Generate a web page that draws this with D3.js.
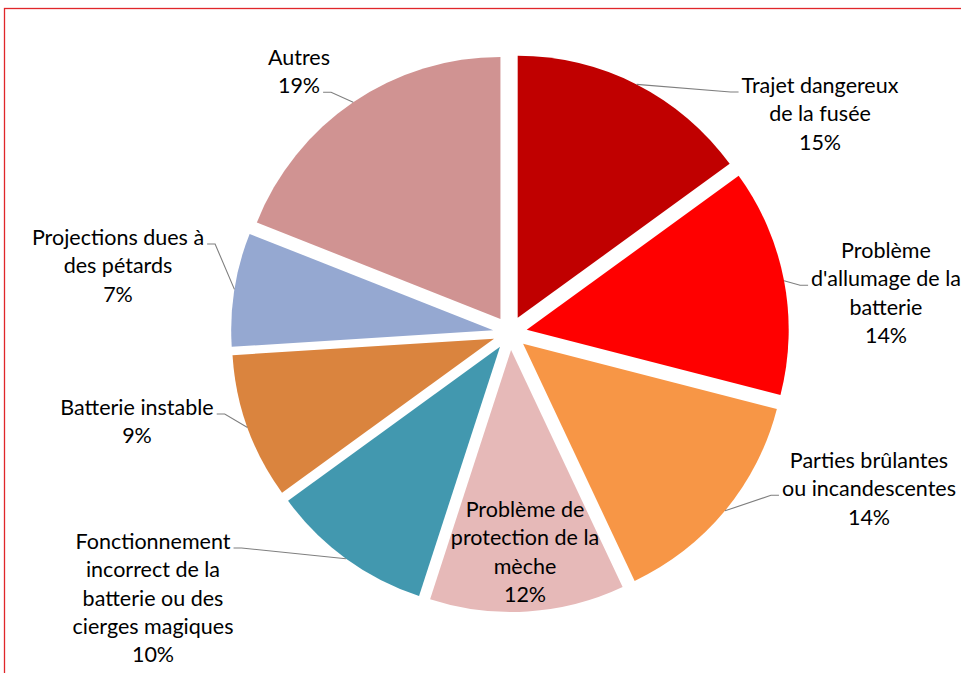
<!DOCTYPE html>
<html>
<head>
<meta charset="utf-8">
<script src="https://cdn.jsdelivr.net/npm/d3@7"></script>
<style>
  body { margin: 0; background: #fff; }
  svg { display: block; }
</style>
</head>
<body>
<div class="d3-chart"></div>
<script>
// chart data
const categories = [
  ["Trajet dangereux", "de la fusée"],
  ["Problème", "d'allumage de la", "batterie"],
  ["Parties brûlantes", "ou incandescentes"],
  ["Problème de", "protection de la", "mèche"],
  ["Fonctionnement", "incorrect de la", "batterie ou des", "cierges magiques"],
  ["Batterie instable"],
  ["Projections dues à", "des pétards"],
  ["Autres"]
];
const values = [15, 14, 14, 12, 10, 9, 7, 19];
const colors = ["#c00000", "#ff0000", "#f79646", "#e6b9b8", "#4298af", "#da843e", "#95a8d1", "#d09392"];

// label layout: text centre x, first baseline, which line the leader attaches to, side
const labelLayout = [
  {x: 820, y: 93,  line: 0, side: "left"},
  {x: 886, y: 258, line: 1, side: "left"},
  {x: 869, y: 468, line: 1, side: "left"},
  {x: 525, y: 517, line: -1},
  {x: 153, y: 549, line: 0, side: "right"},
  {x: 137, y: 415, line: 0, side: "right"},
  {x: 118, y: 245, line: 0, side: "right"},
  {x: 299, y: 65,  line: 1, side: "right"}
];

const width = 961, height = 673;
const cx = 510, cy = 333, radius = 262, explode = 17;
const lineH = 28.3;

const svg = d3.select(".d3-chart")
  .append("svg")
  .attr("width", width)
  .attr("height", height);

// frame
svg.append("rect")
  .attr("x", 4.5).attr("y", 8.5)
  .attr("width", 1000).attr("height", 1000)
  .attr("fill", "none")
  .attr("stroke", "#e0262a")
  .attr("stroke-width", 1.3);

const pie = d3.pie().sort(null).value(d => d);
const arcs = pie(values);
const arc = d3.arc().innerRadius(0).outerRadius(radius);

const g = svg.append("g").attr("transform", `translate(${cx}, ${cy})`);

const mid = d => (d.startAngle + d.endAngle) / 2;

g.selectAll("path.slice")
  .data(arcs)
  .join("path")
  .attr("class", "slice")
  .attr("transform", d => `translate(${explode * Math.sin(mid(d))}, ${-explode * Math.cos(mid(d))})`)
  .attr("d", arc)
  .attr("fill", (d, i) => colors[i]);

// labels
const labels = svg.append("g")
  .style("font-family", "Lato, 'Open Sans', sans-serif")
  .style("font-size", "21.5px")
  .attr("fill", "#000");

arcs.forEach((d, i) => {
  const lay = labelLayout[i];
  const lines = categories[i].concat([values[i] + "%"]);
  const t = labels.append("text")
    .attr("text-anchor", "middle");
  lines.forEach((s, k) => {
    t.append("tspan")
      .attr("x", lay.x)
      .attr("y", lay.y + k * lineH)
      .text(s);
  });
  if (lay.line < 0) return;

  // leader line: from slice edge at mid angle to the side of the text line
  const span = t.selectAll("tspan").nodes()[lay.line];
  const w = span.getComputedTextLength();
  const ly = lay.y + lay.line * lineH - 1;
  const a = mid(d);
  const px = cx + (radius + explode) * Math.sin(a);
  const py = cy - (radius + explode) * Math.cos(a);
  const ex = lay.side === "left" ? lay.x - w / 2 - 3 : lay.x + w / 2 + 3;
  const stub = lay.side === "left" ? ex - 8 : ex + 8;
  svg.append("path")
    .attr("d", d3.line()([[px, py], [stub, ly], [ex, ly]]))
    .attr("fill", "none")
    .attr("stroke", "#7f7f7f")
    .attr("stroke-width", 1.1);
});
</script>
</body>
</html>
